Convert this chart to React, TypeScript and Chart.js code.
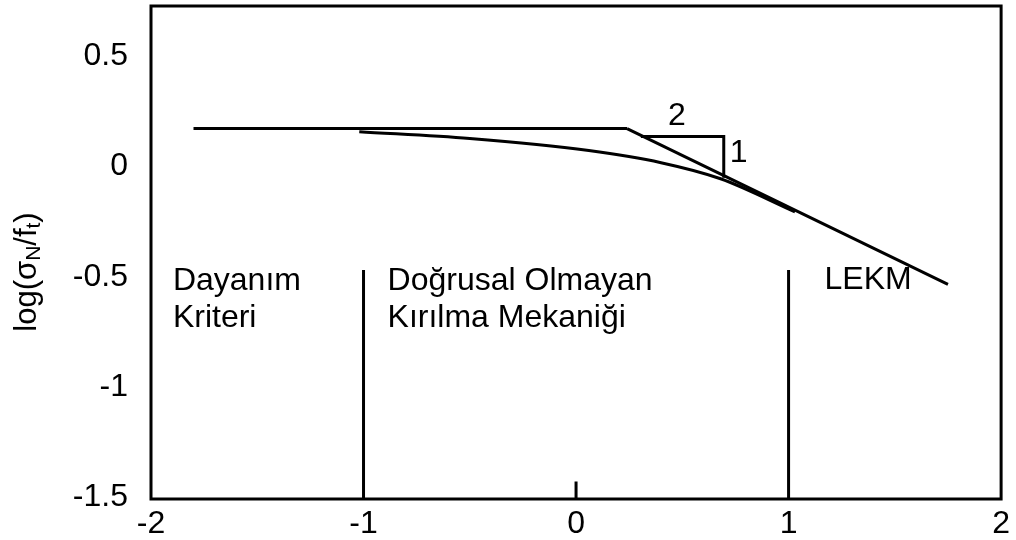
import React, { useEffect, useRef } from "react";
import { Chart, registerables } from "chart.js";

Chart.register(...registerables);

// Axis ticks
const xTickValues = [-2, -1, 0, 1, 2];
const yTickValues = [-1.5, -1, -0.5, 0, 0.5];

// Strength criterion: horizontal asymptote
const strengthX = [-1.8, 0.24];
const strengthY = [0.173, 0.173];

// LEFM asymptote (slope about -1/2)
const lefmX = [0.24, 1.75];
const lefmY = [0.173, -0.535];

// Size effect law curve
const curveX = [-1.02, -0.5, 0.06, 0.4, 0.68, 1.03];
const curveY = [0.159, 0.128, 0.073, 0.018, -0.055, -0.205];

// Slope triangle (2 : 1)
const triangleX = [0.305, 0.695, 0.695];
const triangleY = [0.137, 0.137, -0.05];

// Region dividers and centre mark
const dividerX = [-1, 1];
const dividerTop = -0.47;
const centreMarkX = 0;
const centreMarkTop = -1.43;

const Y_MIN = -1.51;
const Y_MAX = 0.73;

// Text labels placed in data coordinates
const annotations = [
  { text: "Dayanım", x: -1.897, y: -0.56, align: "left" },
  { text: "Kriteri", x: -1.897, y: -0.729, align: "left" },
  { text: "Doğrusal Olmayan", x: -0.887, y: -0.56, align: "left" },
  { text: "Kırılma Mekaniği", x: -0.887, y: -0.729, align: "left" },
  { text: "LEKM", x: 1.169, y: -0.555, align: "left" },
  { text: "2", x: 0.474, y: 0.191, align: "center" },
  { text: "1", x: 0.765, y: 0.023, align: "center" },
];

const FONT = "'Liberation Sans', Arial, sans-serif";
const FONT_SIZE = 32;

const pts = (xs: number[], ys: number[]) => xs.map((x, i) => ({ x, y: ys[i] }));

const lineStyle = {
  showLine: true,
  borderColor: "#000",
  borderWidth: 3,
  pointRadius: 0,
  fill: false,
};

const overlayPlugin = {
  id: "overlay",
  afterDatasetsDraw(chart: any) {
    const { ctx, chartArea, scales } = chart;
    const xs = scales.x;
    const ys = scales.y;
    ctx.save();
    // frame
    ctx.strokeStyle = "#000";
    ctx.lineWidth = 3;
    ctx.strokeRect(
      chartArea.left,
      chartArea.top,
      chartArea.right - chartArea.left,
      chartArea.bottom - chartArea.top
    );
    // text labels
    ctx.fillStyle = "#000";
    ctx.font = `${FONT_SIZE}px ${FONT}`;
    ctx.textBaseline = "alphabetic";
    for (const a of annotations) {
      ctx.textAlign = a.align;
      ctx.fillText(a.text, xs.getPixelForValue(a.x), ys.getPixelForValue(a.y));
    }
    // y axis title with subscripts
    const cx = 27;
    const cy = 272;
    const parts = [
      { t: "log(σ", size: 31, dy: 0 },
      { t: "N", size: 21, dy: 7 },
      { t: "/f", size: 31, dy: 0 },
      { t: "t", size: 21, dy: 7 },
      { t: ")", size: 31, dy: 0 },
    ];
    let total = 0;
    for (const p of parts) {
      ctx.font = `${p.size}px ${FONT}`;
      total += ctx.measureText(p.t).width;
    }
    ctx.translate(cx, cy);
    ctx.rotate(-Math.PI / 2);
    ctx.textAlign = "left";
    ctx.textBaseline = "middle";
    let px = -total / 2;
    for (const p of parts) {
      ctx.font = `${p.size}px ${FONT}`;
      ctx.fillText(p.t, px, p.dy);
      px += ctx.measureText(p.t).width;
    }
    ctx.restore();
  },
};

export default function App() {
  const canvasRef = useRef<HTMLCanvasElement | null>(null);

  useEffect(() => {
    if (!canvasRef.current) return;
    const datasets: any[] = [
      { ...lineStyle, data: pts(strengthX, strengthY) },
      { ...lineStyle, data: pts(lefmX, lefmY) },
      { ...lineStyle, data: pts(curveX, curveY), cubicInterpolationMode: "monotone" },
      { ...lineStyle, data: pts(triangleX, triangleY) },
      ...dividerX.map((x) => ({
        ...lineStyle,
        data: [
          { x, y: dividerTop },
          { x, y: Y_MIN },
        ],
      })),
      {
        ...lineStyle,
        data: [
          { x: centreMarkX, y: centreMarkTop },
          { x: centreMarkX, y: Y_MIN },
        ],
      },
    ];

    const chart = new Chart(canvasRef.current, {
      type: "scatter",
      data: { datasets },
      options: {
        animation: false,
        responsive: false,
        maintainAspectRatio: false,
        layout: { padding: { top: 6, right: 13, left: 0, bottom: 0 } },
        plugins: {
          legend: { display: false },
          tooltip: { enabled: false },
        },
        scales: {
          x: {
            type: "linear",
            min: -2,
            max: 2,
            afterBuildTicks: (s: any) => {
              s.ticks = xTickValues.map((v) => ({ value: v }));
            },
            afterFit: (s: any) => {
              s.height = 41;
            },
            grid: { display: false, drawTicks: false },
            border: { display: false },
            ticks: {
              color: "#000",
              font: { family: FONT, size: FONT_SIZE },
              padding: 6,
              maxRotation: 0,
              autoSkip: false,
              callback: (v: any) => String(v),
            },
          },
          y: {
            type: "linear",
            min: Y_MIN,
            max: Y_MAX,
            afterBuildTicks: (s: any) => {
              s.ticks = yTickValues.map((v) => ({ value: v }));
            },
            afterFit: (s: any) => {
              s.width = 151;
            },
            grid: {
              display: false,
              drawTicks: true,
              tickLength: 23,
              color: "rgba(0,0,0,0)",
            },
            border: { display: false },
            ticks: {
              color: "#000",
              font: { family: FONT, size: FONT_SIZE, lineHeight: 0.3 },
              padding: 0,
              autoSkip: false,
              callback: (v: any) => String(v),
            },
          },
        },
      },
      plugins: [overlayPlugin],
    } as any);
    return () => chart.destroy();
  }, []);

  return (
    <div style={{ position: "fixed", left: 0, top: 0, width: 1016, height: 540, background: "#fff" }}>
      <canvas ref={canvasRef} width={1016} height={540} style={{ display: "block" }} />
    </div>
  );
}
